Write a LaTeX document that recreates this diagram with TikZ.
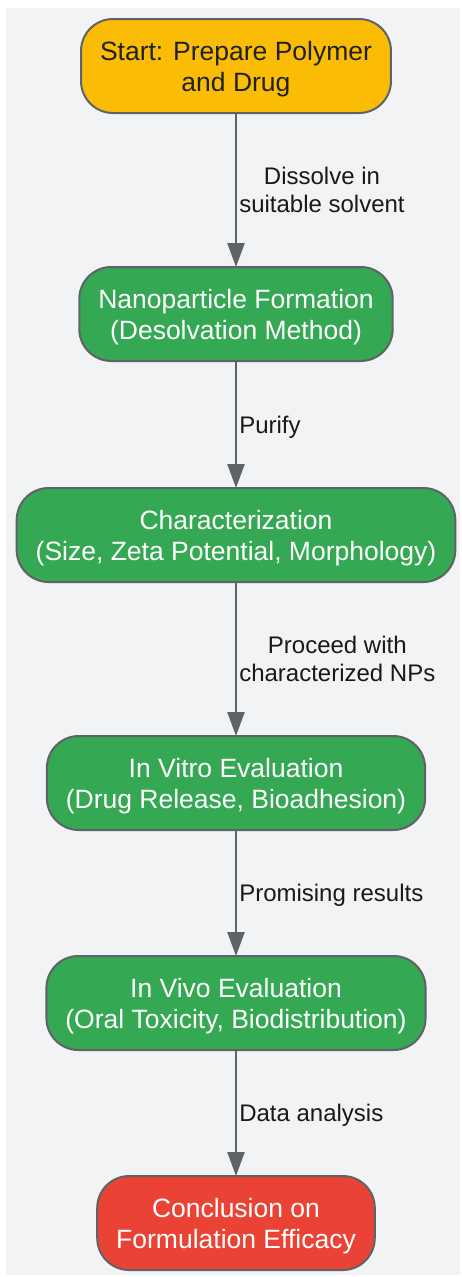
\documentclass[tikz,border=0pt]{standalone}
\usepackage{fontspec}
\setmainfont{Liberation Sans}
\definecolor{bg}{RGB}{241,243,244}
\definecolor{edgegray}{RGB}{95,99,104}
\definecolor{startcol}{RGB}{251,188,5}
\definecolor{stepgreen}{RGB}{52,168,83}
\definecolor{endred}{RGB}{234,67,53}
\definecolor{ink}{RGB}{32,33,36}
\usetikzlibrary{
  positioning,     % relative placement of the boxes
  arrows.meta      % triangle tips
}
\tikzset{
  box/.style = {
    rectangle,
    rounded corners=32pt,
    draw=edgegray,
    line width=2pt,
    minimum height=94pt,
    inner xsep=19pt,
    outer sep=0pt,
    text depth=0pt,
    align=center,
    font=\fontsize{26.5}{31}\selectfont
  },
  startbox/.append style = {box, fill=startcol, text=ink},
  stepbox/.append style = {box, fill=stepgreen, text=white},
  endbox/.append style = {box, fill=endred, text=white},
  lbl/.append style = {anchor=west, align=center, inner sep=2pt,
    text depth=0pt, font=\fontsize{24}{28}\selectfont, text=black!90},
  flow/.style = {draw=edgegray, line width=2.5pt,
    -{Triangle[length=24pt,width=17pt]}}
}

\begin{document}
\begin{tikzpicture}[x=1pt, y=1pt]
\useasboundingbox (0,0) rectangle (461,-1277);
\fill[bg] (6,-8) rectangle (460,-1275);

\node[startbox] (start) at (236,-66) {Start: Prepare Polymer\\and Drug};
\node[stepbox, below=154pt of start] (formation) {Nanoparticle Formation\\(Desolvation Method)};
\node[stepbox, below=127pt of formation] (charact) {Characterization\\(Size, Zeta Potential, Morphology)};
\node[stepbox, below=154pt of charact] (invitro) {In Vitro Evaluation\\(Drug Release, Bioadhesion)};
\node[stepbox, below=126pt of invitro] (invivo) {In Vivo Evaluation\\(Oral Toxicity, Biodistribution)};
\node[endbox, below=126pt of invivo] (concl) {Conclusion on\\Formulation Efficacy};

\draw[flow] (start) -- node[lbl] {Dissolve in\\suitable solvent} (formation);
\draw[flow] (formation) -- node[lbl] {Purify} (charact);
\draw[flow] (charact) -- node[lbl] {Proceed with\\characterized NPs} (invitro);
\draw[flow] (invitro) -- node[lbl] {Promising results} (invivo);
\draw[flow] (invivo) -- node[lbl] {Data analysis} (concl);
\end{tikzpicture}
\end{document}
